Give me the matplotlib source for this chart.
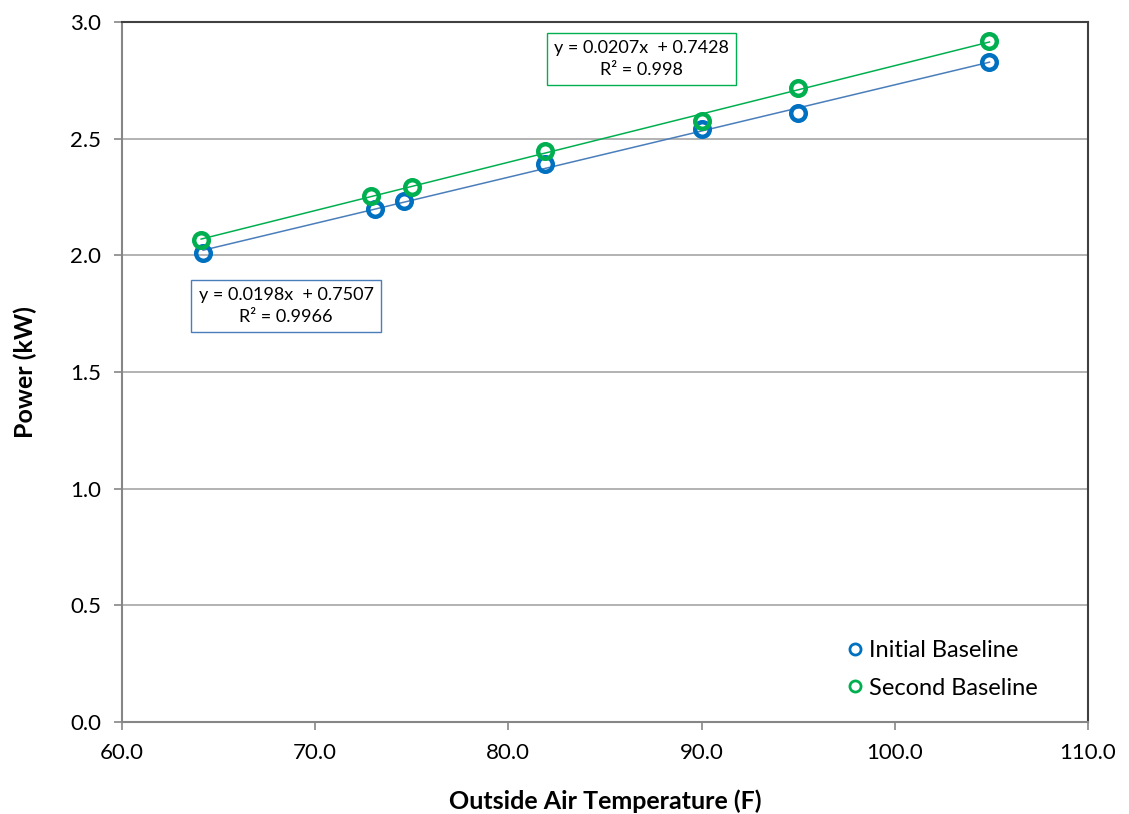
import matplotlib
matplotlib.use('Agg')
from matplotlib import pyplot as plt
from matplotlib.lines import Line2D
import numpy as np

plt.rcParams['font.family'] = ['Lato', 'DejaVu Sans']

# readings
temp_initial = [64.2, 73.1, 74.6, 81.9, 90.0, 95.0, 104.9]
power_initial = [2.01, 2.20, 2.233, 2.39, 2.54, 2.61, 2.83]
temp_second = [64.1, 72.9, 75.0, 81.9, 90.0, 95.0, 104.9]
power_second = [2.066, 2.255, 2.293, 2.447, 2.576, 2.717, 2.919]

# trendline coefficients shown on chart
fit_initial = (0.0198, 0.7507, 0.9966)
fit_second = (0.0207, 0.7428, 0.998)

blue = '#0070C0'
green = '#00B050'
blue_line = '#4A7EBB'

fig = plt.figure(figsize=(11.29, 8.14), dpi=100)
ax = fig.add_axes([0.108, 0.113, 0.8557, 0.86])

def draw(t, p, fit, col, lcol):
    xs = np.array([min(t), max(t)])
    ax.plot(xs, fit[0] * xs + fit[1], color=lcol, lw=1.1, zorder=2)
    ax.plot(t, p, ls='none', marker='o', ms=10.5, mew=3.2, mfc='none', mec=col, zorder=3)

draw(temp_initial, power_initial, fit_initial, blue, blue_line)
draw(temp_second, power_second, fit_second, green, green)

ax.text(86.9, 2.842, 'y = %.4fx  + %.4f\nR² = %s' % (fit_second[0], fit_second[1], fit_second[2]),
        ha='center', va='center', fontsize=13, linespacing=1.45,
        bbox=dict(boxstyle='square,pad=0.4', fc='white', ec=green, lw=1))
ax.text(68.5, 1.783, 'y = %.4fx  + %.4f\nR² = %s' % (fit_initial[0], fit_initial[1], fit_initial[2]),
        ha='center', va='center', fontsize=13, linespacing=1.45,
        bbox=dict(boxstyle='square,pad=0.4', fc='white', ec=blue_line, lw=1))

ax.set_xlim(60, 110)
ax.set_ylim(0, 3.0)
ax.set_xticks(np.arange(60, 111, 10))
ax.set_xticklabels(['%.1f' % v for v in np.arange(60, 111, 10)])
ax.set_yticks(np.arange(0, 3.01, 0.5))
ax.set_yticklabels(['%.1f' % v for v in np.arange(0, 3.01, 0.5)])
ax.yaxis.grid(True, color='#A6A6A6', lw=1.2)
ax.set_axisbelow(True)
ax.tick_params(labelsize=16, color='#868686', length=6, width=1.2, pad=9)

for s in ['left', 'bottom']:
    ax.spines[s].set_color('#868686')
    ax.spines[s].set_linewidth(1.5)
for s in ['top', 'right']:
    ax.spines[s].set_color('#404040')
    ax.spines[s].set_linewidth(1.5)

ax.set_xlabel('Outside Air Temperature (F)', fontsize=18, fontweight='bold', labelpad=19)
ax.set_ylabel('Power (kW)', fontsize=18, fontweight='bold', labelpad=24)

handles = [Line2D([], [], ls='none', marker='o', ms=8, mew=2, mfc='none', mec=blue),
           Line2D([], [], ls='none', marker='o', ms=8, mew=2, mfc='none', mec=green)]
ax.legend(handles, ['Initial Baseline', 'Second Baseline'], loc='lower right',
          frameon=False, fontsize=17, handletextpad=0.1, handlelength=1.0,
          borderaxespad=0, labelspacing=0.7, bbox_to_anchor=(0.958, 0.02))

fig.savefig('out.png', dpi=100)
